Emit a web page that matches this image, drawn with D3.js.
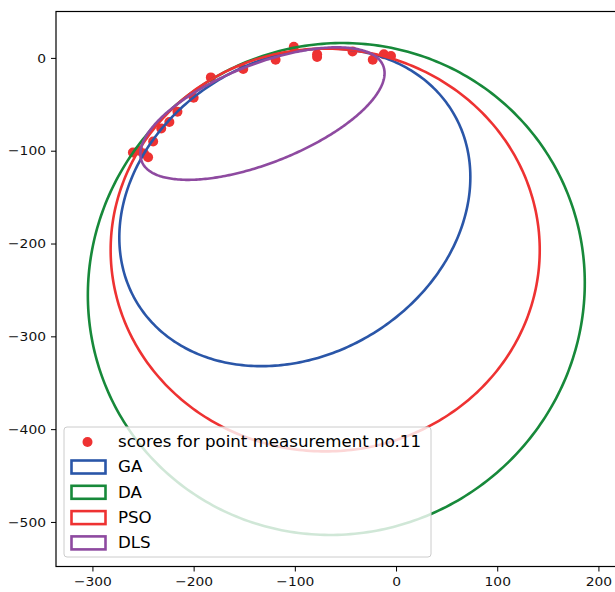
<!DOCTYPE html>
<html>
<head>
<meta charset="utf-8">
<script src="https://cdn.jsdelivr.net/npm/d3@7"></script>
<style>
  body { margin: 0; background: #fff; }
  text { font-family: "DejaVu Sans", sans-serif; }
</style>
</head>
<body>
<div id="chart"></div>
<script>
var scoreX = [-260, -254, -249, -245, -240, -232, -224, -216, -200, -183, -151, -119, -101, -78, -78, -43, -23, -12, -5];
var scoreY = [-102, -100, -103, -107, -90, -76, -69, -58, -43, -21, -12, -2, 12, 4, 1, 7, -2, 4, 2];

// fitted ellipses: centre, full width, full height, angle (deg)
var methods = ['GA', 'DA', 'PSO', 'DLS'];
var centerX = [-100, -59, -70, -132];
var centerY = [-161, -249, -207, -60];
var widths  = [376, 490, 424, 260];
var heights = [310, 531, 434, 105];
var angles  = [43, -9, 0, 24];
var colors  = ['#2a56a8', '#17893a', '#ee3232', '#8e4aa0'];

var xTicks = [-300, -200, -100, 0, 100, 200];
var yTicks = [-500, -400, -300, -200, -100, 0];

var W = 615, H = 592;
var mLeft = 56, mTop = 11.5, mBottom = 566.5;

var svg = d3.select('#chart').append('svg')
  .attr('width', W)
  .attr('height', H);

var x = d3.scaleLinear().domain([-336, 220]).range([mLeft, mLeft + 556 * 1.012]);
var y = d3.scaleLinear().domain([-548, 50]).range([mBottom, mTop]);

var fmt = function(d) { return d < 0 ? '\u2212' + Math.abs(d) : '' + d; };

// the picture is a bit wider than tall, so text is stretched sideways
function stretch(sel, k) {
  sel.each(function() {
    var len = this.getComputedTextLength();
    d3.select(this).attr('textLength', len * k).attr('lengthAdjust', 'spacingAndGlyphs');
  });
}

// axes
var xAxis = svg.append('g')
  .attr('transform', 'translate(0,' + mBottom + ')')
  .call(d3.axisBottom(x).tickValues(xTicks).tickFormat(fmt).tickSize(5).tickPadding(5));
var yAxis = svg.append('g')
  .attr('transform', 'translate(' + mLeft + ',0)')
  .call(d3.axisLeft(y).tickValues(yTicks).tickFormat(fmt).tickSize(5).tickPadding(5));
[xAxis, yAxis].forEach(function(g) {
  g.select('.domain').remove();
  g.selectAll('line').attr('stroke', '#000').attr('stroke-width', 1);
  g.selectAll('text').attr('font-size', '12.8px').attr('fill', '#111')
    .style('font-family', '"DejaVu Sans", sans-serif');
  stretch(g.selectAll('text'), 1.08);
});

// frame (right spine falls outside the window)
svg.append('rect')
  .attr('x', x.range()[0]).attr('y', mTop)
  .attr('width', x.range()[1] - x.range()[0]).attr('height', mBottom - mTop)
  .attr('fill', 'none').attr('stroke', '#000').attr('stroke-width', 1.2);

// scatter points
svg.append('g').selectAll('circle')
  .data(scoreX).enter().append('circle')
  .attr('cx', function(d) { return x(d); })
  .attr('cy', function(d, i) { return y(scoreY[i]); })
  .attr('r', 5)
  .attr('fill', '#ee3232');

// ellipses
var line = d3.line().x(function(p) { return x(p[0]); }).y(function(p) { return y(p[1]); }).curve(d3.curveLinearClosed);
methods.forEach(function(m, i) {
  var a = widths[i] / 2, b = heights[i] / 2, t = angles[i] * Math.PI / 180;
  var pts = d3.range(0, 360, 1).map(function(k) {
    var u = k * Math.PI / 180;
    var ex = a * Math.cos(u), ey = b * Math.sin(u);
    return [centerX[i] + ex * Math.cos(t) - ey * Math.sin(t),
            centerY[i] + ex * Math.sin(t) + ey * Math.cos(t)];
  });
  svg.append('path')
    .attr('d', line(pts))
    .attr('fill', 'none')
    .attr('stroke', colors[i])
    .attr('stroke-width', 2.6);
});

// legend
var lg = svg.append('g').attr('transform', 'translate(64,427)');
lg.append('rect')
  .attr('width', 367).attr('height', 130).attr('rx', 3)
  .attr('fill', '#fff').attr('fill-opacity', 0.8)
  .attr('stroke', '#ccc').attr('stroke-width', 1);
lg.append('circle').attr('cx', 23.5).attr('cy', 15).attr('r', 5).attr('fill', '#ee3232');
lg.append('text').attr('x', 54).attr('y', 15).attr('dy', '0.36em')
  .attr('font-size', '15px').attr('fill', '#000')
  .text('scores for point measurement no.11');
methods.forEach(function(m, i) {
  var cy = 40 + i * 25.3;
  lg.append('rect')
    .attr('x', 7.5).attr('y', cy - 6.5).attr('width', 34).attr('height', 13)
    .attr('fill', 'none').attr('stroke', colors[i]).attr('stroke-width', 2.6);
  lg.append('text').attr('x', 54).attr('y', cy).attr('dy', '0.36em')
    .attr('font-size', '15px').attr('fill', '#000').text(m);
});
stretch(lg.selectAll('text'), 1.11);
</script>
</body>
</html>
